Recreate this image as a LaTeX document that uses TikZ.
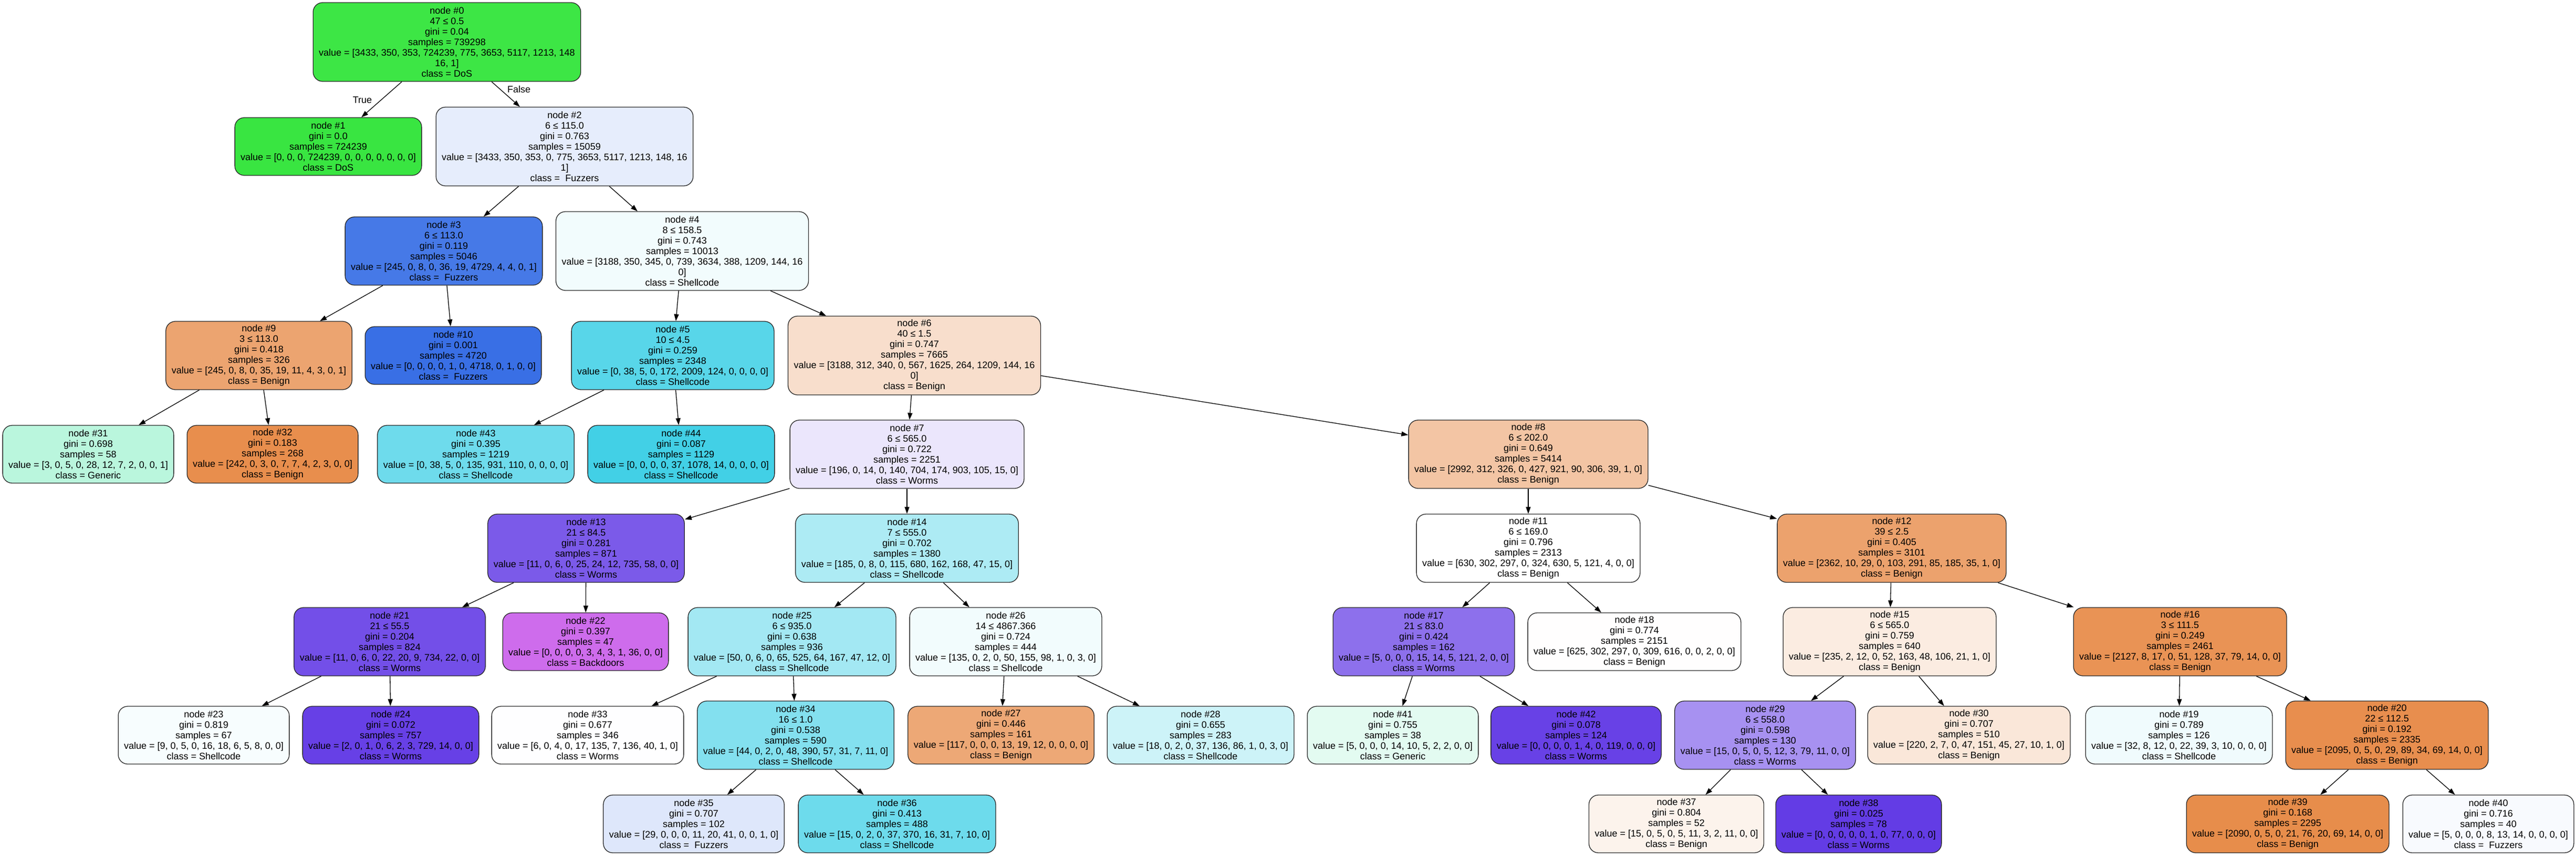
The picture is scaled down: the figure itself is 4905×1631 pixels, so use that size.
\documentclass[tikz,border=0pt]{standalone}
\usepackage{fontspec}
\setmainfont{Liberation Sans}
\usetikzlibrary{arrows.meta}
\definecolor{c0}{HTML}{3DE645}
\definecolor{c1}{HTML}{39E541}
\definecolor{c2}{HTML}{E6EDFC}
\definecolor{c3}{HTML}{4679E7}
\definecolor{c4}{HTML}{F2FCFD}
\definecolor{c5}{HTML}{58D6E9}
\definecolor{c6}{HTML}{F8DECC}
\definecolor{c7}{HTML}{EBE6FC}
\definecolor{c8}{HTML}{F3C5A4}
\definecolor{c9}{HTML}{ECA470}
\definecolor{c10}{HTML}{396FE5}
\definecolor{c11}{HTML}{FFFFFF}
\definecolor{c12}{HTML}{ECA26D}
\definecolor{c13}{HTML}{7B5AE9}
\definecolor{c14}{HTML}{ADEBF4}
\definecolor{c15}{HTML}{FBECE1}
\definecolor{c16}{HTML}{E99355}
\definecolor{c17}{HTML}{8D70EC}
\definecolor{c18}{HTML}{FFFEFE}
\definecolor{c19}{HTML}{F0FBFD}
\definecolor{c20}{HTML}{E88E4E}
\definecolor{c21}{HTML}{734FE8}
\definecolor{c22}{HTML}{CE6CEC}
\definecolor{c23}{HTML}{F7FDFE}
\definecolor{c24}{HTML}{6740E6}
\definecolor{c25}{HTML}{A3E8F3}
\definecolor{c26}{HTML}{F2FCFD}
\definecolor{c27}{HTML}{EDA876}
\definecolor{c28}{HTML}{CDF3F8}
\definecolor{c29}{HTML}{A791F1}
\definecolor{c30}{HTML}{FAE7D9}
\definecolor{c31}{HTML}{BAF6DD}
\definecolor{c32}{HTML}{E88E4D}
\definecolor{c33}{HTML}{FEFEFF}
\definecolor{c34}{HTML}{83E0EF}
\definecolor{c35}{HTML}{DEE7FB}
\definecolor{c36}{HTML}{6DDBEC}
\definecolor{c37}{HTML}{FCF3EC}
\definecolor{c38}{HTML}{633CE5}
\definecolor{c39}{HTML}{E78D4B}
\definecolor{c40}{HTML}{F8FAFE}
\definecolor{c41}{HTML}{E3FBF1}
\definecolor{c42}{HTML}{6841E6}
\definecolor{c43}{HTML}{6EDBEC}
\definecolor{c44}{HTML}{42D0E6}
\begin{document}
\begin{tikzpicture}[x=1pt,y=-1pt,
  every node/.style={font=\fontsize{18}{20}\selectfont},
  box/.style={draw=black!85, rounded corners=18pt, line width=1.3pt, align=center, inner xsep=11pt, inner ysep=0pt},
  leaf/.style={box, minimum height=110pt},
  split/.style={box, minimum height=130pt},
  long/.style={box, minimum height=150pt},
  edge/.style={-{Triangle[length=13pt,width=9pt]}, line width=1.3pt}]
  \useasboundingbox (0,0) rectangle (4905,1631);

  \node[long,fill=c0] (n0) at (851,80) {node \#0\\47 ≤ 0.5\\gini = 0.04\\samples = 739298\\value = [3433, 350, 353, 724239, 775, 3653, 5117, 1213, 148\\16, 1]\\class = DoS};

  \node[leaf,fill=c1] (n1) at (625,279) {node \#1\\gini = 0.0\\samples = 724239\\value = [0, 0, 0, 724239, 0, 0, 0, 0, 0, 0, 0]\\class = DoS};
  \node[long,fill=c2] (n2) at (1075,279) {node \#2\\6 ≤ 115.0\\gini = 0.763\\samples = 15059\\value = [3433, 350, 353, 0, 775, 3653, 5117, 1213, 148, 16\\1]\\class = \ Fuzzers};

  \node[split,fill=c3] (n3) at (845,478) {node \#3\\6 ≤ 113.0\\gini = 0.119\\samples = 5046\\value = [245, 0, 8, 0, 36, 19, 4729, 4, 4, 0, 1]\\class = \ Fuzzers};
  \node[long,fill=c4] (n4) at (1299,478) {node \#4\\8 ≤ 158.5\\gini = 0.743\\samples = 10013\\value = [3188, 350, 345, 0, 739, 3634, 388, 1209, 144, 16\\0]\\class = Shellcode};

  \node[split,fill=c9] (n9) at (493,677) {node \#9\\3 ≤ 113.0\\gini = 0.418\\samples = 326\\value = [245, 0, 8, 0, 35, 19, 11, 4, 3, 0, 1]\\class = Benign};
  \node[leaf,fill=c10] (n10) at (863,677) {node \#10\\gini = 0.001\\samples = 4720\\value = [0, 0, 0, 0, 1, 0, 4718, 0, 1, 0, 0]\\class = \ Fuzzers};
  \node[split,fill=c5] (n5) at (1281,677) {node \#5\\10 ≤ 4.5\\gini = 0.259\\samples = 2348\\value = [0, 38, 5, 0, 172, 2009, 124, 0, 0, 0, 0]\\class = Shellcode};
  \node[long,fill=c6] (n6) at (1741,677) {node \#6\\40 ≤ 1.5\\gini = 0.747\\samples = 7665\\value = [3188, 312, 340, 0, 567, 1625, 264, 1209, 144, 16\\0]\\class = Benign};

  \node[leaf,fill=c31] (n31) at (168,865) {node \#31\\gini = 0.698\\samples = 58\\value = [3, 0, 5, 0, 28, 12, 7, 2, 0, 0, 1]\\class = Generic};
  \node[leaf,fill=c32] (n32) at (519,865) {node \#32\\gini = 0.183\\samples = 268\\value = [242, 0, 3, 0, 7, 7, 4, 2, 3, 0, 0]\\class = Benign};
  \node[leaf,fill=c43] (n43) at (906,865) {node \#43\\gini = 0.395\\samples = 1219\\value = [0, 38, 5, 0, 135, 931, 110, 0, 0, 0, 0]\\class = Shellcode};
  \node[leaf,fill=c44] (n44) at (1297,865) {node \#44\\gini = 0.087\\samples = 1129\\value = [0, 0, 0, 0, 37, 1078, 14, 0, 0, 0, 0]\\class = Shellcode};
  \node[split,fill=c7] (n7) at (1727,865) {node \#7\\6 ≤ 565.0\\gini = 0.722\\samples = 2251\\value = [196, 0, 14, 0, 140, 704, 174, 903, 105, 15, 0]\\class = Worms};
  \node[split,fill=c8] (n8) at (2910,865) {node \#8\\6 ≤ 202.0\\gini = 0.649\\samples = 5414\\value = [2992, 312, 326, 0, 427, 921, 90, 306, 39, 1, 0]\\class = Benign};

  \node[split,fill=c13] (n13) at (1116,1044) {node \#13\\21 ≤ 84.5\\gini = 0.281\\samples = 871\\value = [11, 0, 6, 0, 25, 24, 12, 735, 58, 0, 0]\\class = Worms};
  \node[split,fill=c14] (n14) at (1727,1044) {node \#14\\7 ≤ 555.0\\gini = 0.702\\samples = 1380\\value = [185, 0, 8, 0, 115, 680, 162, 168, 47, 15, 0]\\class = Shellcode};
  \node[split,fill=c11] (n11) at (2910,1044) {node \#11\\6 ≤ 169.0\\gini = 0.796\\samples = 2313\\value = [630, 302, 297, 0, 324, 630, 5, 121, 4, 0, 0]\\class = Benign};
  \node[split,fill=c12] (n12) at (3602,1044) {node \#12\\39 ≤ 2.5\\gini = 0.405\\samples = 3101\\value = [2362, 10, 29, 0, 103, 291, 85, 185, 35, 1, 0]\\class = Benign};

  \node[split,fill=c21] (n21) at (742,1222) {node \#21\\21 ≤ 55.5\\gini = 0.204\\samples = 824\\value = [11, 0, 6, 0, 22, 20, 9, 734, 22, 0, 0]\\class = Worms};
  \node[leaf,fill=c22] (n22) at (1115,1222) {node \#22\\gini = 0.397\\samples = 47\\value = [0, 0, 0, 0, 3, 4, 3, 1, 36, 0, 0]\\class = Backdoors};
  \node[split,fill=c25] (n25) at (1508,1222) {node \#25\\6 ≤ 935.0\\gini = 0.638\\samples = 936\\value = [50, 0, 6, 0, 65, 525, 64, 167, 47, 12, 0]\\class = Shellcode};
  \node[split,fill=c26] (n26) at (1915,1222) {node \#26\\14 ≤ 4867.366\\gini = 0.724\\samples = 444\\value = [135, 0, 2, 0, 50, 155, 98, 1, 0, 3, 0]\\class = Shellcode};
  \node[split,fill=c17] (n17) at (2711,1222) {node \#17\\21 ≤ 83.0\\gini = 0.424\\samples = 162\\value = [5, 0, 0, 0, 15, 14, 5, 121, 2, 0, 0]\\class = Worms};
  \node[leaf,fill=c18] (n18) at (3112,1222) {node \#18\\gini = 0.774\\samples = 2151\\value = [625, 302, 297, 0, 309, 616, 0, 0, 2, 0, 0]\\class = Benign};
  \node[split,fill=c15] (n15) at (3598,1222) {node \#15\\6 ≤ 565.0\\gini = 0.759\\samples = 640\\value = [235, 2, 12, 0, 52, 163, 48, 106, 21, 1, 0]\\class = Benign};
  \node[split,fill=c16] (n16) at (4151,1222) {node \#16\\3 ≤ 111.5\\gini = 0.249\\samples = 2461\\value = [2127, 8, 17, 0, 51, 128, 37, 79, 14, 0, 0]\\class = Benign};

  \node[leaf,fill=c23] (n23) at (388,1400) {node \#23\\gini = 0.819\\samples = 67\\value = [9, 0, 5, 0, 16, 18, 6, 5, 8, 0, 0]\\class = Shellcode};
  \node[leaf,fill=c24] (n24) at (744,1400) {node \#24\\gini = 0.072\\samples = 757\\value = [2, 0, 1, 0, 6, 2, 3, 729, 14, 0, 0]\\class = Worms};
  \node[leaf,fill=c33] (n33) at (1119,1400) {node \#33\\gini = 0.677\\samples = 346\\value = [6, 0, 4, 0, 17, 135, 7, 136, 40, 1, 0]\\class = Worms};
  \node[split,fill=c34] (n34) at (1515,1400) {node \#34\\16 ≤ 1.0\\gini = 0.538\\samples = 590\\value = [44, 0, 2, 0, 48, 390, 57, 31, 7, 11, 0]\\class = Shellcode};
  \node[leaf,fill=c27] (n27) at (1906,1400) {node \#27\\gini = 0.446\\samples = 161\\value = [117, 0, 0, 0, 13, 19, 12, 0, 0, 0, 0]\\class = Benign};
  \node[leaf,fill=c28] (n28) at (2286,1400) {node \#28\\gini = 0.655\\samples = 283\\value = [18, 0, 2, 0, 37, 136, 86, 1, 0, 3, 0]\\class = Shellcode};
  \node[leaf,fill=c41] (n41) at (2652,1400) {node \#41\\gini = 0.755\\samples = 38\\value = [5, 0, 0, 0, 14, 10, 5, 2, 2, 0, 0]\\class = Generic};
  \node[leaf,fill=c42] (n42) at (3001,1400) {node \#42\\gini = 0.078\\samples = 124\\value = [0, 0, 0, 0, 1, 4, 0, 119, 0, 0, 0]\\class = Worms};
  \node[split,fill=c29] (n29) at (3361,1400) {node \#29\\6 ≤ 558.0\\gini = 0.598\\samples = 130\\value = [15, 0, 5, 0, 5, 12, 3, 79, 11, 0, 0]\\class = Worms};
  \node[leaf,fill=c30] (n30) at (3749,1400) {node \#30\\gini = 0.707\\samples = 510\\value = [220, 2, 7, 0, 47, 151, 45, 27, 10, 1, 0]\\class = Benign};
  \node[leaf,fill=c19] (n19) at (4149,1400) {node \#19\\gini = 0.789\\samples = 126\\value = [32, 8, 12, 0, 22, 39, 3, 10, 0, 0, 0]\\class = Shellcode};
  \node[split,fill=c20] (n20) at (4545,1400) {node \#20\\22 ≤ 112.5\\gini = 0.192\\samples = 2335\\value = [2095, 0, 5, 0, 29, 89, 34, 69, 14, 0, 0]\\class = Benign};

  \node[leaf,fill=c35] (n35) at (1321,1569) {node \#35\\gini = 0.707\\samples = 102\\value = [29, 0, 0, 0, 11, 20, 41, 0, 0, 1, 0]\\class = \ Fuzzers};
  \node[leaf,fill=c36] (n36) at (1708,1569) {node \#36\\gini = 0.413\\samples = 488\\value = [15, 0, 2, 0, 37, 370, 16, 31, 7, 10, 0]\\class = Shellcode};
  \node[leaf,fill=c37] (n37) at (3192,1569) {node \#37\\gini = 0.804\\samples = 52\\value = [15, 0, 5, 0, 5, 11, 3, 2, 11, 0, 0]\\class = Benign};
  \node[leaf,fill=c38] (n38) at (3539,1569) {node \#38\\gini = 0.025\\samples = 78\\value = [0, 0, 0, 0, 0, 1, 0, 77, 0, 0, 0]\\class = Worms};
  \node[leaf,fill=c39] (n39) at (4356,1569) {node \#39\\gini = 0.168\\samples = 2295\\value = [2090, 0, 5, 0, 21, 76, 20, 69, 14, 0, 0]\\class = Benign};
  \node[leaf,fill=c40] (n40) at (4738,1569) {node \#40\\gini = 0.716\\samples = 40\\value = [5, 0, 0, 0, 8, 13, 14, 0, 0, 0, 0]\\class = \ Fuzzers};

  \foreach \a/\b in {0/1,0/2,2/3,2/4,3/9,3/10,9/31,9/32,4/5,4/6,5/43,5/44,6/7,6/8,
    7/13,7/14,13/21,13/22,21/23,21/24,14/25,14/26,25/33,25/34,34/35,34/36,26/27,26/28,
    8/11,8/12,11/17,11/18,17/41,17/42,12/15,12/16,15/29,15/30,29/37,29/38,16/19,16/20,20/39,20/40}
    \draw[edge] (n\a) -- (n\b);

  \node (lblT) at (690,190) {True};
  \node (lblF) at (988,170) {False};
\end{tikzpicture}
\end{document}
